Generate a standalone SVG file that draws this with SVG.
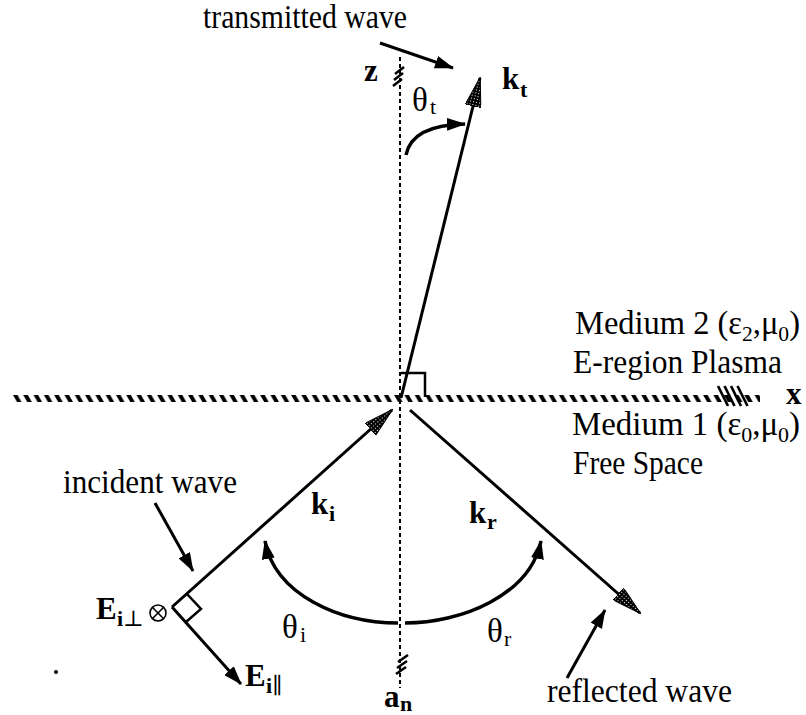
<svg xmlns="http://www.w3.org/2000/svg" width="806" height="715" viewBox="0 0 806 715">
<style>
  .t { font-family: "Liberation Serif", "DejaVu Serif", serif; font-size: 33px; fill: #000; }
  .b { font-family: "Liberation Serif", "DejaVu Serif", serif; font-size: 31px; font-weight: bold; fill: #000; }
  .s { font-size: 22px; }
  .ln { stroke: #000; fill: none; stroke-width: 3; }
  .arc { stroke: #000; fill: none; stroke-width: 3.5; }
  .hm { stroke: #000; stroke-width: 2.6; }
</style>
<defs>
  <pattern id="stip" width="3" height="3" patternUnits="userSpaceOnUse">
    <rect width="3" height="3" fill="#000"/>
    <rect x="1" y="1" width="1" height="1" fill="#fff"/>
  </pattern>
  <pattern id="hatch" x="13" y="395" width="10.3" height="7" patternUnits="userSpaceOnUse">
    <polygon points="0,0 4.5,0 8.5,7 4,7" fill="#000"/>
  </pattern>
  <marker id="stipHead" viewBox="0 0 30 16" refX="29" refY="8" markerWidth="30" markerHeight="16" markerUnits="userSpaceOnUse" orient="auto">
    <path d="M0,0 L30,8 L0,16 Z" fill="url(#stip)" stroke="#000" stroke-width="1"/>
  </marker>
  <marker id="head" viewBox="0 0 19 13" refX="18" refY="6.5" markerWidth="19" markerHeight="13" markerUnits="userSpaceOnUse" orient="auto">
    <path d="M0,0 L19,6.5 L0,13 Z" fill="#000"/>
  </marker>
</defs>
<rect width="806" height="715" fill="#fff"/>

<g id="axes">
  <rect x="13" y="395" width="747" height="7" fill="url(#hatch)"/>
  <g class="hm">
    <line x1="718" y1="386" x2="728" y2="406"/>
    <line x1="724.5" y1="386" x2="734.5" y2="406"/>
    <line x1="731" y1="386" x2="741" y2="406"/>
    <line x1="737.5" y1="386" x2="747.5" y2="406"/>
  </g>
  <line x1="400" y1="57" x2="400" y2="688" stroke="#000" stroke-width="2" stroke-dasharray="4 3"/>
  <g class="hm">
    <line x1="395" y1="74" x2="404" y2="67"/>
    <line x1="394" y1="80" x2="403" y2="73"/>
    <line x1="393" y1="86" x2="402" y2="79"/>
    <line x1="398" y1="662" x2="408" y2="655"/>
    <line x1="397" y1="668" x2="407" y2="661"/>
    <line x1="396" y1="674" x2="406" y2="667"/>
  </g>
  <polyline points="401,373 425,373 425,397" fill="none" stroke="#000" stroke-width="2.5"/>
  <circle cx="56" cy="672" r="2" fill="#000"/>
</g>

<g id="connectors">
  <path id="kt" class="ln" d="M401,398 L480,78" marker-end="url(#stipHead)"/>
  <path id="ki" class="ln" d="M172,607 L392,410" marker-end="url(#stipHead)"/>
  <path id="kr" class="ln" d="M410,410 L640,613" marker-end="url(#stipHead)"/>
  <path id="Epar" class="ln" d="M172,607 L241,684" marker-end="url(#head)"/>
  <path id="trans" class="ln" stroke-width="3.5" d="M380,43 L453,68" marker-end="url(#head)"/>
  <path id="inc" class="ln" stroke-width="3.5" d="M155,503 L193,571" marker-end="url(#head)"/>
  <path id="refl" class="ln" stroke-width="3.5" d="M567,678 L605,610" marker-end="url(#head)"/>
  <path id="arc-t" class="arc" d="M406,155 Q412,125 465,124" marker-end="url(#head)"/>
  <path id="arc-i" class="arc" d="M398,623 C340,623 275,595 265,541" marker-end="url(#head)"/>
  <path id="arc-r" class="arc" d="M405,623 C462,623 530,595 541,541" marker-end="url(#head)"/>
  <polyline points="187,594 201,609 186,622" fill="none" stroke="#000" stroke-width="2.5"/>
</g>

<g id="e-perp">
  <circle cx="158" cy="613" r="8" fill="#fff" stroke="#000" stroke-width="1.6"/>
  <line x1="152.3" y1="607.3" x2="163.7" y2="618.7" stroke="#000" stroke-width="1.6"/>
  <line x1="163.7" y1="607.3" x2="152.3" y2="618.7" stroke="#000" stroke-width="1.6"/>
  <text class="b" x="96" y="619">E<tspan class="s" x="117" y="626">i</tspan><tspan class="s" font-weight="normal" y="626">⊥</tspan></text>
</g>

<g id="labels">
  <text class="t" x="203" y="28" font-size="31" textLength="204" lengthAdjust="spacingAndGlyphs">transmitted wave</text>
  <text class="t" x="63" y="493" textLength="174" lengthAdjust="spacingAndGlyphs">incident wave</text>
  <text class="t" x="547" y="702" textLength="185" lengthAdjust="spacingAndGlyphs">reflected wave</text>
  <text class="t" x="575" y="334" textLength="225" lengthAdjust="spacingAndGlyphs">Medium 2 (ε<tspan class="s" dy="7">2</tspan><tspan dy="-7">,μ</tspan><tspan class="s" dy="7">0</tspan><tspan dy="-7">)</tspan></text>
  <text class="t" x="573" y="373" textLength="209" lengthAdjust="spacingAndGlyphs">E-region Plasma</text>
  <text class="t" x="572" y="435" textLength="228" lengthAdjust="spacingAndGlyphs">Medium 1 (ε<tspan class="s" dy="7">0</tspan><tspan dy="-7">,μ</tspan><tspan class="s" dy="7">0</tspan><tspan dy="-7">)</tspan></text>
  <text class="t" x="573" y="474" textLength="130" lengthAdjust="spacingAndGlyphs">Free Space</text>

  <text class="b" x="364" y="81">z</text>
  <text class="b" x="786" y="404">x</text>
  <text class="b" x="502" y="89">k<tspan class="s" x="520" y="97">t</tspan></text>
  <text class="b" x="311" y="514">k<tspan class="s" x="329" y="521">i</tspan></text>
  <text class="b" x="469" y="523">k<tspan class="s" x="487" y="529">r</tspan></text>
  <text class="b" x="245" y="686">E<tspan class="s" x="266" y="693">i</tspan><tspan class="s" font-weight="normal" y="693">∥</tspan></text>
  <text class="b" x="384" y="707">a<tspan class="s" x="400" y="711">n</tspan></text>

  <text class="t" x="412" y="111">θ<tspan class="s" x="430" y="114">t</tspan></text>
  <text class="t" x="282" y="638">θ<tspan class="s" x="300" y="642">i</tspan></text>
  <text class="t" x="487" y="642">θ<tspan class="s" x="504" y="646">r</tspan></text>
</g>
</svg>
